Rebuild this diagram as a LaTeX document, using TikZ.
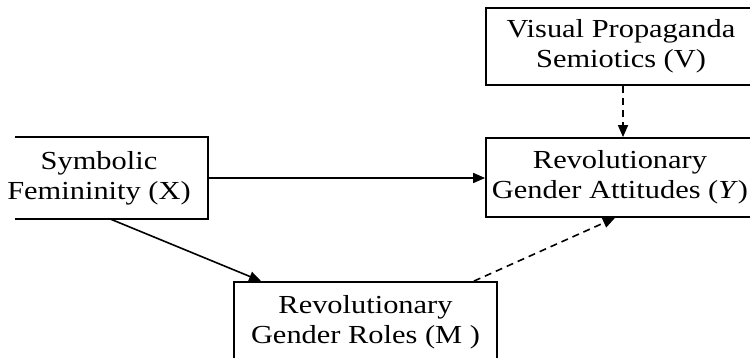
\documentclass[tikz,border=0pt]{standalone}
\usepackage{fontspec}
\setmainfont{Liberation Serif}[FakeStretch=1.17]
\usetikzlibrary{arrows.meta,calc}
\begin{document}
\begin{tikzpicture}[x=1pt,y=-1pt,
  box/.style={draw, line width=1.8pt, align=center, inner sep=0pt,
    font=\fontsize{26}{30}\selectfont},
  arr/.style={line width=1.6pt, -{Triangle[length=12pt,width=10pt]}},
  darr/.style={arr, dash pattern=on 7pt off 5pt}]
\useasboundingbox (0,0) rectangle (750,358);
\clip (0,0) rectangle (750,358);
\node[box, draw=none, minimum width=216pt, minimum height=80pt] (X) at (99,178) {Symbolic\\Femininity (X)};
\begin{scope}
  \clip (15,0) rectangle (750,358);
  \draw[line width=1.8pt] (X.north west) rectangle (X.south east);
\end{scope}
\node[box, minimum width=268pt, minimum height=79pt] (Y) at (620,177.5) {Revolutionary\\Gender Attitudes (\textit{Y})};
\node[box, minimum width=270pt, minimum height=77pt] (V) at (621,46.5) {Visual Propaganda\\Semiotics (V)};
\node[box, minimum width=263pt, minimum height=80pt] (M) at (365.5,322) {Revolutionary\\Gender Roles (M )};
\draw[arr] (X.east) -- (Y.west |- X.east);
\draw[arr] ($(X.south)+(11,0)$) -- ($(M.north west)+(28,0)$);
\draw[darr] ($(M.north east)+(-24,0)$) -- ($(Y.south)+(-5,0)$);
\draw[darr] ($(V.south)+(2,0)$) -- ($(V.south |- Y.north)+(2,0)$);
\end{tikzpicture}
\end{document}
